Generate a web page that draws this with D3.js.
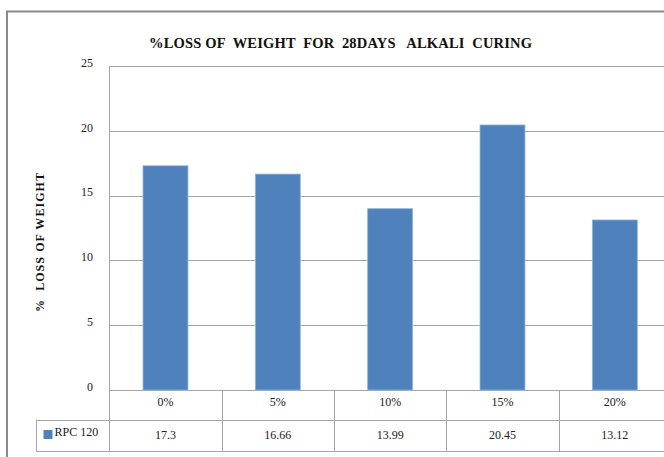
<!DOCTYPE html>
<html>
<head>
<meta charset="utf-8">
<script src="https://cdn.jsdelivr.net/npm/d3@7"></script>
<style>
  html, body { margin: 0; padding: 0; background: #fff; }
</style>
</head>
<body>
<svg id="chart" width="664" height="457"></svg>
<script>
// Chart data
const categories = ["0%", "5%", "10%", "15%", "20%"];
const seriesName = "RPC 120";
const seriesValues = [17.3, 16.66, 13.99, 20.45, 13.12];
const valueLabels = ["17.3", "16.66", "13.99", "20.45", "13.12"];
const yTicks = [0, 5, 10, 15, 20, 25];
const titleText = "%LOSS OF  WEIGHT  FOR  28DAYS   ALKALI  CURING";
const yTitleText = "%  LOSS OF WEIGHT";

const svg = d3.select("#chart");
const barColor = "#4F81BD";
const gridColor = "#a6a6a6";
const serif = "'Liberation Serif', 'DejaVu Serif'";

// Plot geometry
const plot = { left: 109.3, right: 671, top: 66, bottom: 390 };
const rowH1 = 419.5, rowH2 = 451, legendLeft = 36;

// Outer chart frame (runs past the right and bottom edges)
svg.append("rect")
  .attr("x", 7).attr("y", 11.5)
  .attr("width", 700).attr("height", 500)
  .attr("fill", "#fff")
  .attr("stroke", "#8a8a8a").attr("stroke-width", 2);

const x = d3.scaleBand()
  .domain(categories)
  .range([plot.left, plot.right])
  .paddingInner(0.6)
  .paddingOuter(0.3);

const y = d3.scaleLinear().domain([0, 25]).range([plot.bottom, plot.top]);

// Gridlines
svg.append("g").selectAll("line")
  .data(yTicks)
  .join("line")
  .attr("x1", plot.left).attr("x2", plot.right)
  .attr("y1", d => Math.round(y(d)) + 0.5)
  .attr("y2", d => Math.round(y(d)) + 0.5)
  .attr("stroke", gridColor).attr("stroke-width", 1);

// Y axis line
svg.append("line")
  .attr("x1", Math.round(plot.left) + 0.5).attr("x2", Math.round(plot.left) + 0.5)
  .attr("y1", plot.top).attr("y2", rowH2)
  .attr("stroke", gridColor);

// Y tick labels
svg.append("g").selectAll("text")
  .data(yTicks)
  .join("text")
  .style("font-family", serif)
  .attr("x", 93)
  .attr("y", d => y(d) - 3)
  .attr("dy", "0.32em")
  .attr("text-anchor", "end")
  .attr("font-size", 12)
  .attr("fill", "#222")
  .text(d => d);

// Bars
svg.append("g").selectAll("rect")
  .data(seriesValues)
  .join("rect")
  .attr("x", (d, i) => x(categories[i]))
  .attr("width", x.bandwidth())
  .attr("y", d => y(d))
  .attr("height", d => y(0) - y(d))
  .attr("fill", barColor)
  .attr("stroke", "#93b3da").attr("stroke-width", 0.8);

// Data table: column boundaries
const step = x.step();
const colEdges = d3.range(categories.length + 1).map(i => plot.left + i * step);

const table = svg.append("g").attr("stroke", gridColor).attr("stroke-width", 1);
table.selectAll("line.v")
  .data(colEdges.slice(1))
  .join("line")
  .attr("x1", d => Math.round(d) + 0.5).attr("x2", d => Math.round(d) + 0.5)
  .attr("y1", plot.bottom).attr("y2", rowH2);
table.append("line")
  .attr("x1", legendLeft).attr("x2", plot.right)
  .attr("y1", Math.round(rowH1) + 0.5).attr("y2", Math.round(rowH1) + 0.5);
table.append("line")
  .attr("x1", legendLeft).attr("x2", plot.right)
  .attr("y1", rowH2 + 0.5).attr("y2", rowH2 + 0.5);
table.append("line")
  .attr("x1", legendLeft + 0.5).attr("x2", legendLeft + 0.5)
  .attr("y1", rowH1).attr("y2", rowH2);

// Category row
svg.append("g").selectAll("text")
  .data(categories)
  .join("text")
  .style("font-family", serif)
  .attr("x", d => x(d) + x.bandwidth() / 2)
  .attr("y", 402)
  .attr("dy", "0.35em")
  .attr("text-anchor", "middle")
  .attr("font-size", 12)
  .attr("fill", "#222")
  .text(d => d);

// Value row
svg.append("g").selectAll("text")
  .data(valueLabels)
  .join("text")
  .style("font-family", serif)
  .attr("x", (d, i) => x(categories[i]) + x.bandwidth() / 2)
  .attr("y", 434.5)
  .attr("dy", "0.35em")
  .attr("text-anchor", "middle")
  .attr("font-size", 12)
  .attr("fill", "#222")
  .text(d => d);

// Legend key in the table
svg.append("rect")
  .attr("x", 43.5).attr("y", 430)
  .attr("width", 9).attr("height", 9)
  .attr("fill", barColor);
svg.append("text")
  .style("font-family", serif)
  .attr("x", 54.5).attr("y", 432)
  .attr("dy", "0.35em")
  .attr("font-size", 12)
  .attr("fill", "#222")
  .text(seriesName);

// Title
svg.append("text")
  .style("font-family", serif)
  .attr("x", 149).attr("y", 48)
  .attr("font-size", 14.5)
  .attr("font-weight", "bold")
  .attr("fill", "#111")
  .attr("textLength", 383)
  .attr("lengthAdjust", "spacing")
  .style("white-space", "pre")
  .text(titleText);

// Y axis title
svg.append("text")
  .style("font-family", serif)
  .attr("transform", "translate(44,242.5) rotate(-90)")
  .attr("text-anchor", "middle")
  .attr("font-size", 12)
  .attr("font-weight", "bold")
  .attr("fill", "#111")
  .attr("textLength", 139)
  .attr("lengthAdjust", "spacing")
  .style("white-space", "pre")
  .text(yTitleText);
</script>
</body>
</html>
